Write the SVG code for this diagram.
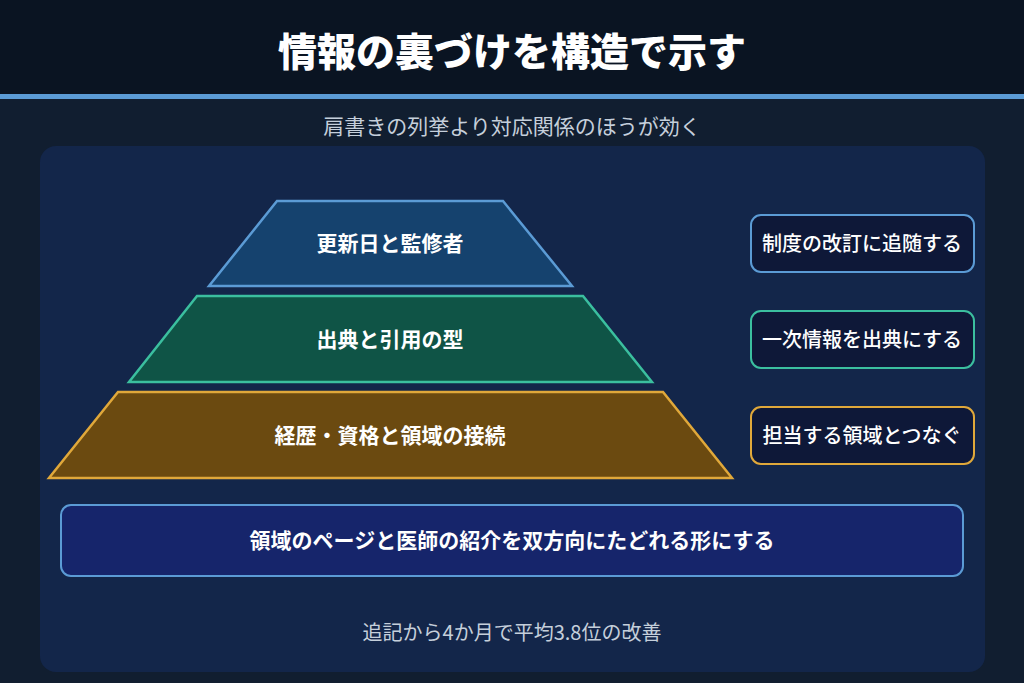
<svg xmlns="http://www.w3.org/2000/svg" width="1024" height="683" viewBox="0 0 1024 683">
<style>
text{font-family:"Noto Sans CJK JP","Noto Sans",sans-serif;fill:#fff;text-anchor:middle}
.b{font-weight:700;font-size:21px}
.s{font-size:20px;font-weight:500}
.side{fill:#0e1838;stroke-width:2}
</style>
<rect width="1024" height="683" fill="#111e30"/>
<rect width="1024" height="94" fill="#0a1422"/>
<rect y="94" width="1024" height="5" fill="#5b9bd5"/>
<text x="512" y="66" style="font-size:39px;font-weight:900">情報の裏づけを構造で示す</text>
<text x="512" y="134" style="font-size:21px;fill:#c5cfdb">肩書きの列挙より対応関係のほうが効く</text>
<rect x="40" y="146" width="945" height="526" rx="16" fill="#13264a"/>
<g id="tier1"><polygon points="277,201 503,201 572,286 209,286" fill="#15426e" stroke="#5b9bd5" stroke-width="2.5"/><text class="b" x="390" y="251">更新日と監修者</text></g>
<g id="tier2"><polygon points="197,296 583,296 652,382 129,382" fill="#0f5446" stroke="#3bbf9f" stroke-width="2.5"/><text class="b" x="390" y="347">出典と引用の型</text></g>
<g id="tier3"><polygon points="118,392 663,392 732,478 49,478" fill="#6b4a10" stroke="#e0a83a" stroke-width="2.5"/><text class="b" x="390" y="443">経歴・資格と領域の接続</text></g>
<g id="note1"><rect class="side" x="751" y="215" width="223" height="57" rx="10" stroke="#5b9bd5"/><text class="s" x="862" y="251">制度の改訂に追随する</text></g>
<g id="note2"><rect class="side" x="751" y="311" width="223" height="57" rx="10" stroke="#3bbf9f"/><text class="s" x="862" y="347">一次情報を出典にする</text></g>
<g id="note3"><rect class="side" x="751" y="407" width="223" height="57" rx="10" stroke="#e0a83a"/><text class="s" x="862" y="443">担当する領域とつなぐ</text></g>
<g id="base"><rect x="61" y="505" width="902" height="71" rx="10" fill="#16256b" stroke="#5b9bd5" stroke-width="2"/><text class="b" x="512" y="548">領域のページと医師の紹介を双方向にたどれる形にする</text></g>
<g id="connectors"/>
<text x="512" y="640" style="font-size:20px;fill:#c5cfdb">追記から4か月で平均3.8位の改善</text>
</svg>
